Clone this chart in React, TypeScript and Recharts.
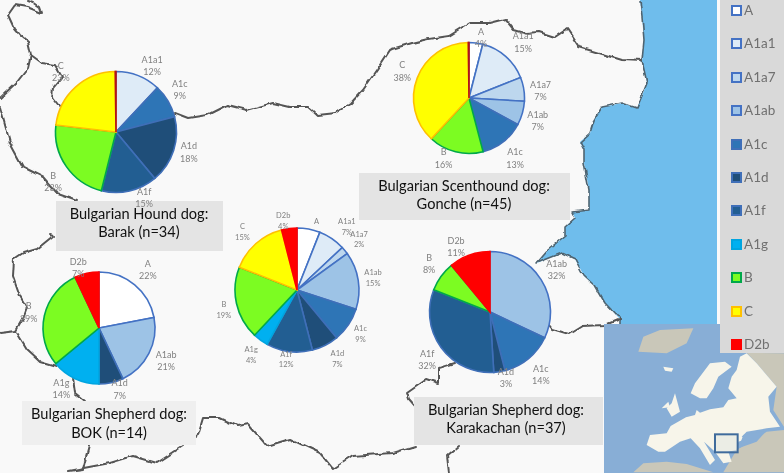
import { Cell, Legend, Pie, PieChart } from "recharts";

const FONT = "Lato, 'Open Sans', sans-serif";

// haplogroups in legend order
const legendGroups = ["A", "A1a1", "A1a7", "A1ab", "A1c", "A1d", "A1f", "A1g", "B", "C", "D2b"];

const fills: Record<string, string> = {
  A: "#ffffff",
  A1a1: "#deebf7",
  A1a7: "#bdd7ee",
  A1ab: "#9dc3e6",
  A1c: "#2e75b6",
  A1d: "#1f4e79",
  A1f: "#225e92",
  A1g: "#00b0f0",
  B: "#7cfc22",
  C: "#ffff00",
  D2b: "#ff0000",
};

const strokes: Record<string, string> = {
  A: "#4472c4",
  A1a1: "#4472c4",
  A1a7: "#4472c4",
  A1ab: "#4472c4",
  A1c: "#3f6fb8",
  A1d: "#3f6fb8",
  A1f: "#3f6fb8",
  A1g: "#00a5e0",
  B: "#00a84a",
  C: "#ffc000",
  D2b: "#ff0000",
};

// D2b is 0% in Barak and Gonche, the picture still shows it as a thin line at 12 o'clock
const barakGroups = ["A1a1", "A1c", "A1d", "A1f", "B", "C", "D2b"];
const barakValues = [12, 9, 18, 15, 23, 23, 0.2];

const goncheGroups = ["A", "A1a1", "A1a7", "A1ab", "A1c", "B", "C", "D2b"];
const goncheValues = [4, 15, 7, 7, 13, 16, 38, 0.2];

const allGroups = ["A", "A1a1", "A1a7", "A1ab", "A1c", "A1d", "A1f", "A1g", "B", "C", "D2b"];
const allValues = [6, 7, 2, 15, 9, 7, 12, 4, 19, 15, 4];

const bokGroups = ["A", "A1ab", "A1d", "A1g", "B", "D2b"];
const bokValues = [22, 21, 7, 14, 29, 7];

const karaGroups = ["A1ab", "A1c", "A1d", "A1f", "B", "D2b"];
const karaValues = [32, 14, 3, 32, 8, 11];

// label shifts from the default spot, one per slice
const barakNudge = [[8, 5], [-2, -3], [0, -3], [11, -9], [0, 6], [-4, -3], [0, 0]];
const goncheNudge = [[3, 11], [7, -2], [1, 4], [0, 3], [2, 4], [-8, -9], [0, -1], [0, 0]];
const allNudge = [[5, 13], [6, 1], [2, -1], [-1, 0], [-1, 0], [5, -1], [-1, -8], [0, 2], [3, 3], [-3, 0], [-4, 8]];
const bokNudge = [[3, -3], [3, 0], [5, -9], [-7, -4], [0, 0], [-5, 10]];
const karaNudge = [[2, -1], [2, 4], [4, -10], [-1, 3], [1, -3], [-8, 7]];

const toRows = (groups: string[], values: number[]) =>
  groups.map((group, i) => ({ group, value: values[i] }));

const makeLabel =
  (nudge: number[][], fontSize: number, lineGap: number, noPercent: string[] = []) =>
  (props: any) => {
    const { cx, cy, midAngle, outerRadius, index, value, name } = props;
    if (value < 1) return null;
    const rad = (-midAngle * Math.PI) / 180;
    const r = outerRadius + 16;
    const x = cx + r * Math.cos(rad) + nudge[index][0];
    const y = cy + r * Math.sin(rad) + nudge[index][1];
    return (
      <text
        x={x}
        y={y}
        textAnchor="middle"
        fill="#808080"
        fontSize={fontSize}
        fontFamily={FONT}
      >
        <tspan x={x} y={y - lineGap / 2 + fontSize * 0.35}>
          {name}
        </tspan>
        {!noPercent.includes(name) && (
          <tspan x={x} y={y + lineGap / 2 + fontSize * 0.35}>
            {value}%
          </tspan>
        )}
      </text>
    );
  };

function DogPie({ groups, values, cx, cy, radius, label }: any) {
  return (
    <Pie
      data={toRows(groups, values)}
      dataKey="value"
      nameKey="group"
      cx={cx}
      cy={cy}
      outerRadius={radius}
      startAngle={90}
      endAngle={-270}
      label={label}
      labelLine={false}
      isAnimationActive={false}
    >
      {groups.map((g: string, i: number) => (
        <Cell
          key={g}
          fill={fills[g]}
          stroke={values[i] < 1 ? "#b3121a" : strokes[g]}
          strokeWidth={1.6}
        />
      ))}
    </Pie>
  );
}

function LegendPanel() {
  return (
    <div style={{ position: "relative", width: 64, height: 353, background: "#d9d9d9" }}>
      {legendGroups.map((g, i) => {
        const top = 10 + i * 33.4;
        return (
          <div key={g}>
            <div
              style={{
                position: "absolute",
                left: 11,
                top: top - 5,
                width: 7,
                height: 7,
                background: fills[g],
                border: `2px solid ${strokes[g]}`,
              }}
            />
            <div
              style={{
                position: "absolute",
                left: 24,
                top: top - 9,
                fontFamily: FONT,
                fontSize: 13.5,
                lineHeight: "18px",
                color: "#707070",
              }}
            >
              {g}
            </div>
          </div>
        );
      })}
    </div>
  );
}

const captions = [
  { x: 56, y: 201, w: 167, h: 50, fill: "#e4e4e4", cx: 139, l1: "Bulgarian Hound dog:", l2: "Barak (n=34)", y1: 219, y2: 237 },
  { x: 359, y: 173, w: 211, h: 47, fill: "#e4e4e4", cx: 464, l1: "Bulgarian Scenthound dog:", l2: "Gonche (n=45)", y1: 191, y2: 209 },
  { x: 22, y: 401, w: 174, h: 44, fill: "#efefef", cx: 109, l1: "Bulgarian Shepherd dog:", l2: "BOK (n=14)", y1: 419, y2: 438 },
  { x: 414, y: 397, w: 189, h: 48, fill: "#e4e4e4", cx: 506, l1: "Bulgarian Shepherd dog:", l2: "Karakachan (n=37)", y1: 415, y2: 433 },
];

// country outline on the map behind the pies
const borderLines = [
  "31,55 28,42 20,35 14,28 8,15 15,5 27,7 42,13 40,7 33,2 27,0",
  "31,55 28,68 17,82 0,98",
  "31,55 42,63 55,65 62,77 53,88 52,98 60,108",
  "175,113 188,118 207,115 227,105 247,110 273,103 290,107 308,107 317,115 335,113 350,104 363,90 377,70 390,50 392,49 412,43 429,39 449,36 470,23 489,23 505,19 514,30 525,33 539,32 555,37 567,29 579,47 599,53 622,60 642,61",
  "0,107 10,143 23,167 43,177 57,193 77,200",
  "50,235 53,236 37,249 23,253 14,259 13,276 20,296 27,308 23,319 16,331 0,333",
  "16,331 27,349 40,361 57,366",
  "73,379 75,393 85,401",
  "89,446 83,469 68,471 110,463 133,456 157,463 183,446",
  "197,438 203,418 220,418 237,426 248,424 267,446 290,439 320,453 333,469 353,456 392,453 415,446",
  "620,319 605,325 582,326 569,334 552,329 548,324",
  "455,363 439,368 439,383 427,379 407,393 409,399 415,406",
  "459,446 447,456 449,473",
];

const seaOutline =
  "640,0 642,17 644,40 642,61 647,83 637,108 622,103 602,107 594,120 590,133 580,142 584,150 584,163 589,190 589,210 572,212 575,218 565,227 565,236 549,249 537,263 562,253 575,259 584,276 595,286 605,303 620,319 620,324 717,324 717,0";

// inset map shapes, drawn in a 3x grid and scaled down
const insetLand = [
  "140,375 150,345 200,340 212,318 258,292 285,285 290,270 300,278 330,268 370,262 385,240 410,235 385,205 395,170 410,150 420,110 440,100 470,130 530,200 505,230 510,275 540,320 500,325 440,335 425,350 445,355 415,365 410,390 385,395 395,425 370,430 345,395 312,365 345,420 330,435 300,385 272,355 240,365 195,395 175,395",
  "272,220 285,190 330,130 375,125 395,140 355,170 340,205 320,235 300,235",
  "215,290 200,265 215,250 225,220 240,275",
  "185,265 205,245 210,262",
  "190,140 220,145 215,155 195,152",
];
const insetGrey = [
  "115,95 130,50 180,30 280,25 260,70 200,100",
  "100,457 130,430 200,425 260,432 340,457",
  "410,390 500,335 552,330 552,457 370,457",
  "440,98 552,100 552,320 520,270 530,200 470,130",
];
const insetBlack = ["430,345 500,332 470,365 415,385"];

function MapBackground() {
  return (
    <svg width={784} height={473} style={{ position: "absolute", left: 0, top: 0 }}>
      <defs>
        <filter id="wobble" x="-5%" y="-5%" width="110%" height="110%">
          <feTurbulence type="fractalNoise" baseFrequency="0.09" numOctaves={2} seed={4} result="noise" />
          <feDisplacementMap in="SourceGraphic" in2="noise" scale={5} xChannelSelector="R" yChannelSelector="G" />
        </filter>
      </defs>
      <rect width={784} height={473} fill="#f9f9f9" />
      <polygon points={seaOutline} fill="#6fbdec" />
      <g filter="url(#wobble)">
        <polyline points={seaOutline.split(" ").slice(0, 28).join(" ")} fill="none" stroke="#4f6470" strokeWidth={1.6} strokeLinejoin="round" />
        {borderLines.map((d) => (
          <polyline key={d} points={d} fill="none" stroke="#555555" strokeWidth={2} strokeLinejoin="round" strokeLinecap="round" />
        ))}
      </g>
      {captions.map((c) => (
        <g key={c.l2}>
          <rect x={c.x} y={c.y} width={c.w} height={c.h} fill={c.fill} />
          <text x={c.cx} y={c.y1} textAnchor="middle" fontFamily={FONT} fontSize={14.6} fill="#111111">{c.l1}</text>
          <text x={c.cx} y={c.y2} textAnchor="middle" fontFamily={FONT} fontSize={14.6} fill="#111111">{c.l2}</text>
        </g>
      ))}
      <rect x={604} y={324} width={180} height={149} fill="#88aed6" />
      <g transform="translate(600 320) scale(0.3333)">
        {insetGrey.map((p) => <polygon key={p} points={p} fill="#c9c7b9" />)}
        {insetLand.map((p) => <polygon key={p} points={p} fill="#f7f5ea" />)}
        {insetBlack.map((p) => <polygon key={p} points={p} fill="#88aed6" />)}
        <rect x={345} y={343} width={68} height={54} fill="#dfe6e0" fillOpacity={0.5} stroke="#3f6b9c" strokeWidth={6} />
      </g>
    </svg>
  );
}

export default function App() {
  return (
    <div style={{ position: "absolute", left: 0, top: 0, width: 784, height: 473, overflow: "hidden", filter: "blur(0.35px)" }}>
      <MapBackground />
      <PieChart
        width={784}
        height={473}
        margin={{ top: 0, right: 0, bottom: 0, left: 0 }}
        style={{ position: "absolute", left: 0, top: 0 }}
      >
        {DogPie({ groups: barakGroups, values: barakValues, cx: 116, cy: 132, radius: 60.5, label: makeLabel(barakNudge, 9, 12.3) })}
        {DogPie({ groups: goncheGroups, values: goncheValues, cx: 469, cy: 98, radius: 55.5, label: makeLabel(goncheNudge, 9, 12.3) })}
        {DogPie({ groups: allGroups, values: allValues, cx: 297, cy: 290, radius: 62, label: makeLabel(allNudge, 7.5, 10.8, ["A"]) })}
        {DogPie({ groups: bokGroups, values: bokValues, cx: 99, cy: 328, radius: 56, label: makeLabel(bokNudge, 9, 12.3) })}
        {DogPie({ groups: karaGroups, values: karaValues, cx: 490, cy: 312, radius: 60.5, label: makeLabel(karaNudge, 9, 12.3) })}
        <Legend
          content={<LegendPanel />}
          wrapperStyle={{ position: "absolute", left: 720, top: 0, width: 64, height: 353, bottom: "auto", margin: 0 }}
        />
      </PieChart>
    </div>
  );
}
